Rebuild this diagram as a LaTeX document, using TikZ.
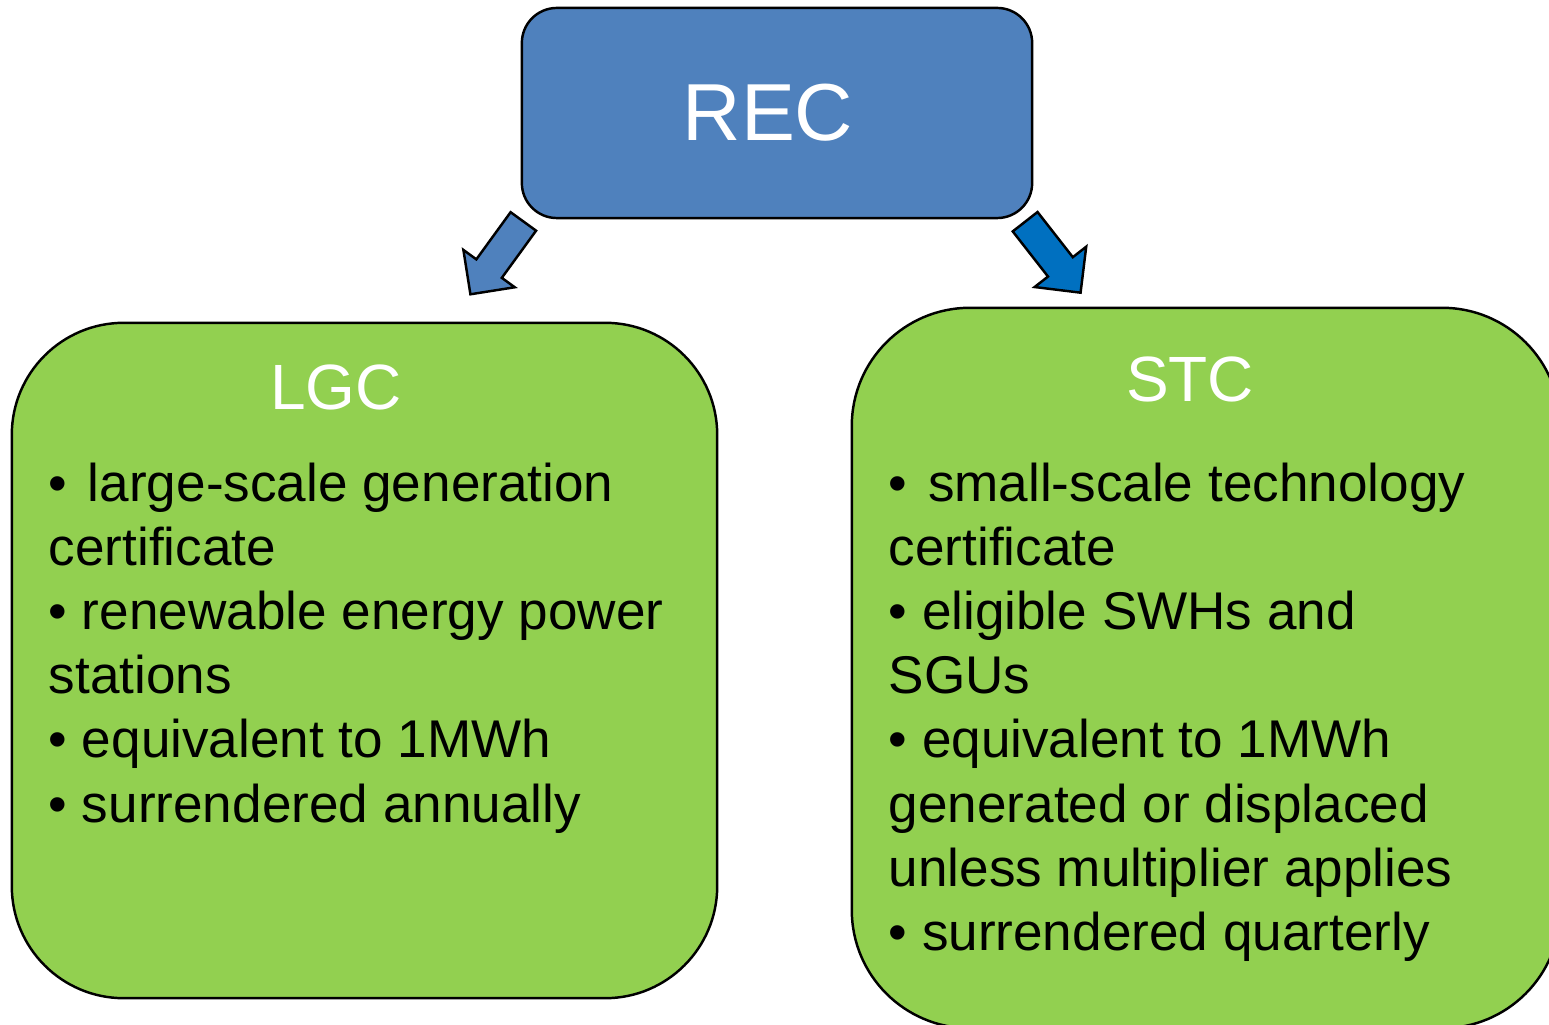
\documentclass[tikz,border=0pt]{standalone}
\usepackage{fontspec}
\setmainfont{Liberation Sans}
\usetikzlibrary{shapes.arrows}

\definecolor{recblue}{HTML}{4F81BD}
\definecolor{certgreen}{HTML}{92D050}
\definecolor{arrowblue}{HTML}{0070C0}

\begin{document}
\begin{tikzpicture}[x=0.01cm, y=-0.01cm,
		every node/.style={font=\fontsize{15.1}{18.25}\selectfont},
		certbox/.style={draw, line width=0.7pt, fill=certgreen, rectangle},
		certtitle/.style={text=white, font=\fontsize{18.2}{22}\selectfont},
		bullets/.style={align=left, anchor=north west, inner sep=0pt},
		blockarrow/.style={single arrow, draw, line width=0.7pt, minimum height=0.9cm, inner xsep=0pt, inner ysep=0.145cm, single arrow head extend=0.16cm}]
		\useasboundingbox (0,0) rectangle (1549,1025);
		\clip (0,0) rectangle (1549,1025);
		% top box
		\node[draw, line width=0.7pt, fill=recblue, rounded corners=0.35cm, minimum width=5.1cm, minimum height=2.1cm, text=white, font=\fontsize{23}{27}\selectfont] (rec) at (777,113) {REC\hspace*{0.18cm}};
		% the two certificates
		\node[certbox, rounded corners=1.12cm, minimum width=7.05cm, minimum height=6.75cm] (lgc) at (364.5,660.5) {};
		\node[certbox, rounded corners=1.18cm, minimum width=7.08cm, minimum height=7.2cm] (stc) at (1206,668) {};
		\node[certtitle] (lgctitle) at (336,387) {LGC};
		\node[certtitle] (stctitle) at (1190,379) {STC};
		\node[bullets] (lgctext) at (48,462) {•\hspace{1.7pt} large-scale generation\\ certificate\\ • renewable energy power\\ stations\\ • equivalent to 1MWh\\ • surrendered annually};
		\node[bullets] (stctext) at (888,462) {•\hspace{1.7pt} small-scale technology\\ certificate\\ • eligible SWHs and\\ SGUs\\ • equivalent to 1MWh\\ generated or displaced\\ unless multiplier applies\\ • surrendered quarterly};
		% block arrows
		\node[blockarrow, fill=recblue, rotate=234] (arrowl) at (501.5,251.5) {};
		\node[blockarrow, fill=arrowblue, rotate=308, single arrow head extend=0.17cm] (arrowr) at (1048,251) {};
	\end{tikzpicture}
\end{document}
